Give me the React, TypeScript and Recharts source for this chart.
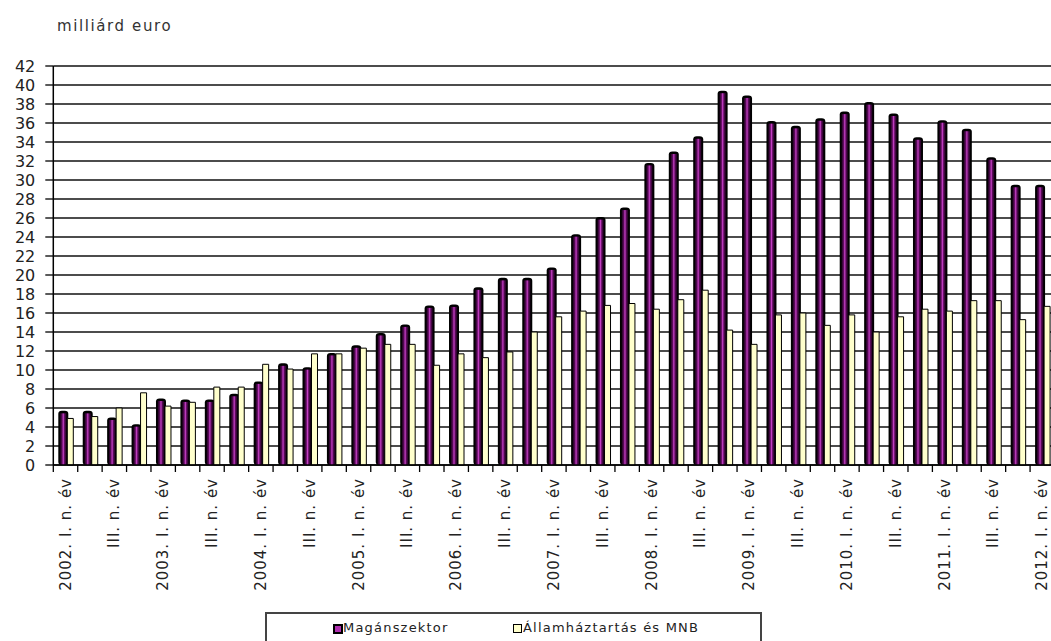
import React from "react"
import { BarChart, Bar, XAxis, YAxis, CartesianGrid } from "recharts"

// negyedévek 2002 I. – 2012 I.
const years = [2002, 2003, 2004, 2005, 2006, 2007, 2008, 2009, 2010, 2011, 2012]
const quarterNames = ["I.", "II.", "III.", "IV."]

// milliárd euro
const maganszektor = [
  5.7, 5.7, 5.0, 4.3,
  7.0, 6.9, 6.9, 7.5,
  8.8, 10.7, 10.3, 11.8,
  12.6, 13.9, 14.8, 16.8,
  16.9, 18.7, 19.7, 19.7,
  20.8, 24.3, 26.1, 27.1,
  31.8, 33.0, 34.6, 39.4,
  38.9, 36.2, 35.7, 36.5,
  37.2, 38.2, 37.0, 34.5,
  36.3, 35.4, 32.4, 29.5,
  29.5,
]
const allamhaztartas = [
  4.9, 5.1, 6.0, 7.6,
  6.2, 6.6, 8.2, 8.2,
  10.6, 10.1, 11.7, 11.7,
  12.3, 12.7, 12.7, 10.5,
  11.7, 11.3, 11.9, 14.0,
  15.6, 16.2, 16.8, 17.0,
  16.4, 17.4, 18.4, 14.2,
  12.7, 15.8, 16.0, 14.7,
  15.8, 14.0, 15.6, 16.4,
  16.2, 17.3, 17.3, 15.3,
  16.7,
]
const yTicks = [0, 2, 4, 6, 8, 10, 12, 14, 16, 18, 20, 22, 24, 26, 28, 30, 32, 34, 36, 38, 40, 42]

const categories: string[] = []
years.forEach((y) => {
  quarterNames.forEach((q, i) => {
    if (categories.length < maganszektor.length) {
      categories.push(i === 0 ? `${y}. ${q} n. év` : `${q} n. év`)
    }
  })
})

const data = categories.map((name, i) => ({
  name,
  magan: maganszektor[i],
  allam: allamhaztartas[i],
}))

const CHART_W = 1060
const CHART_H = 641
const MARGIN = { top: 66, right: 5.5, bottom: 0, left: 0 }
const Y_W = 53.3
const HALF_BAND = (CHART_W - MARGIN.right - Y_W) / data.length / 2
const FONT = "'DejaVu Sans', Verdana, sans-serif"

function PurpleBar(props: any) {
  const { x, y, width, height } = props
  if (!height || height <= 0) return null
  return (
    <g>
      <rect x={x} y={y} width={width} height={height} rx={3.5} ry={3} fill="#000" />
      <rect x={x + 1.8} y={y + 2.5} width={width - 3.6} height={height - 2.5} fill="url(#purpleGrad)" />
    </g>
  )
}

function XTick(props: any) {
  const { x, y, payload, index } = props
  const axisY = y - 6
  return (
    <g>
      <line x1={x - HALF_BAND} x2={x - HALF_BAND} y1={axisY} y2={axisY + 7} stroke="#000" strokeWidth={1.3} />
      {index % 2 === 0 && (
        <text
          transform={`translate(${x + 5},${axisY + 13}) rotate(-90)`}
          textAnchor="end"
          fontFamily={FONT}
          fontSize={15}
          letterSpacing={1}
          fill="#222"
        >
          {payload.value}
        </text>
      )}
    </g>
  )
}

function YTick(props: any) {
  const { x, y, payload } = props
  return (
    <text x={x} y={y} dy={6} textAnchor="end" fontFamily={FONT} fontSize={16} fill="#222">
      {payload.value}
    </text>
  )
}

export default function App() {
  return (
    <div
      style={{
        position: "absolute",
        left: 0,
        top: 0,
        width: 1051,
        height: 641,
        overflow: "hidden",
        background: "#fff",
        fontFamily: FONT,
      }}
    >
      <div style={{ position: "absolute", left: 57, top: 17, fontSize: 15, letterSpacing: 1.6, color: "#333" }}>
        milliárd euro
      </div>
      <div style={{ position: "absolute", left: 0, top: 0 }}>
        <BarChart width={CHART_W} height={CHART_H} data={data} margin={MARGIN} barGap={-1} barCategoryGap={4}>
          <defs>
            <linearGradient id="purpleGrad" x1="0" y1="0" x2="1" y2="0">
              <stop offset="0%" stopColor="#1a001a" />
              <stop offset="30%" stopColor="#5a0c5a" />
              <stop offset="50%" stopColor="#c43ec4" />
              <stop offset="70%" stopColor="#5a0c5a" />
              <stop offset="100%" stopColor="#1a001a" />
            </linearGradient>
          </defs>
          <CartesianGrid vertical={false} stroke="#111" strokeWidth={1.5} />
          <XAxis
            dataKey="name"
            interval={0}
            height={176}
            tickSize={6}
            tickMargin={0}
            tickLine={false}
            axisLine={{ stroke: "#000", strokeWidth: 1.5 }}
            tick={<XTick />}
          />
          <YAxis
            domain={[0, 42]}
            ticks={yTicks}
            interval={0}
            width={Y_W}
            tickSize={8}
            tickMargin={10}
            tickLine={{ stroke: "#000", strokeWidth: 1.3 }}
            axisLine={{ stroke: "#000", strokeWidth: 1.5 }}
            tick={<YTick />}
          />
          <Bar dataKey="magan" name="Magánszektor" barSize={10} shape={<PurpleBar />} isAnimationActive={false} />
          <Bar
            dataKey="allam"
            name="Államháztartás és MNB"
            barSize={6}
            fill="#ffffcc"
            stroke="#000"
            strokeWidth={1}
            isAnimationActive={false}
          />
        </BarChart>
      </div>
      <div
        style={{
          position: "absolute",
          left: 265,
          top: 612,
          width: 493,
          height: 40,
          border: "2px solid #444",
          background: "#fff",
          fontSize: 13,
          letterSpacing: 1.2,
          color: "#222",
        }}
      >
        <span
          style={{
            position: "absolute",
            left: 66,
            top: 10,
            width: 6,
            height: 6,
            border: "2px solid #000",
            background: "#b030b0",
          }}
        />
        <span style={{ position: "absolute", left: 76, top: 6 }}>Magánszektor</span>
        <span
          style={{
            position: "absolute",
            left: 246,
            top: 10,
            width: 7,
            height: 7,
            border: "1px solid #000",
            background: "#ffffcc",
          }}
        />
        <span style={{ position: "absolute", left: 256, top: 6 }}>Államháztartás és MNB</span>
      </div>
    </div>
  )
}
